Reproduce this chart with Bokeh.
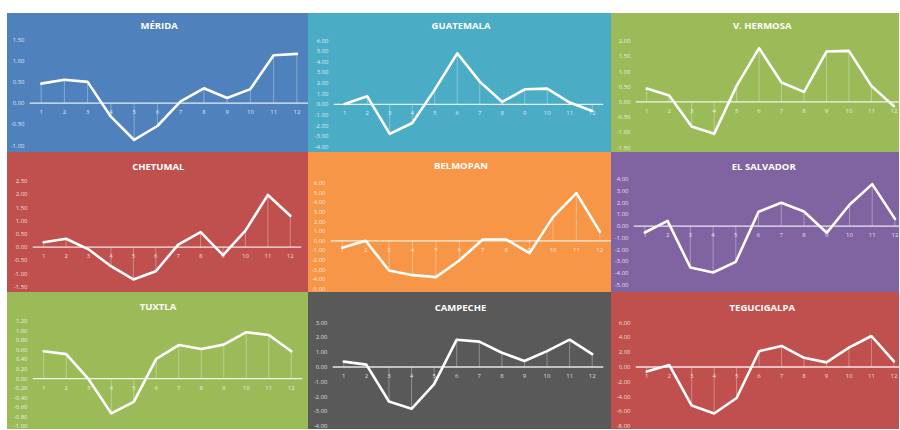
from bokeh.plotting import figure
from bokeh.layouts import column, row
from bokeh.models import Range1d, FixedTicker, PrintfTickFormatter, Span, Label, ColumnDataSource, Spacer
from bokeh.embed import file_html
from bokeh.resources import INLINE
from bokeh.core.properties import value

# ---------------- data ----------------
months = [1, 2, 3, 4, 5, 6, 7, 8, 9, 10, 11, 12]
month_labels = ["1", "2", "3", "4", "5", "6", "7", "8", "9", "10", "11", "12"]

merida = [0.46, 0.55, 0.50, -0.32, -0.87, -0.54, 0.04, 0.35, 0.12, 0.33, 1.13, 1.16]
guatemala = [0.03, 0.75, -2.79, -1.76, 1.38, 4.80, 2.13, 0.22, 1.41, 1.47, 0.16, -0.63]
v_hermosa = [0.44, 0.21, -0.81, -1.05, 0.53, 1.77, 0.64, 0.33, 1.66, 1.68, 0.53, -0.14]
chetumal = [0.19, 0.32, -0.08, -0.72, -1.22, -0.91, 0.10, 0.57, -0.30, 0.63, 1.98, 1.19]
belmopan = [-0.72, 0.00, -3.09, -3.58, -3.78, -2.05, 0.14, 0.14, -1.28, 2.47, 4.97, 0.95]
el_salvador = [-0.54, 0.45, -3.52, -3.95, -3.04, 1.22, 1.99, 1.25, -0.57, 1.82, 3.58, 0.62]
tuxtla = [0.57, 0.51, -0.02, -0.73, -0.49, 0.41, 0.70, 0.62, 0.71, 0.97, 0.91, 0.57]
campeche = [0.36, 0.16, -2.33, -2.82, -1.16, 1.84, 1.71, 0.96, 0.40, 1.07, 1.84, 0.87]
tegucigalpa = [-0.62, 0.27, -5.20, -6.27, -4.18, 2.13, 2.84, 1.24, 0.62, 2.62, 4.18, 0.76]

merida_ticks = [-1.0, -0.5, 0.0, 0.5, 1.0, 1.5]
guatemala_ticks = [-4, -3, -2, -1, 0, 1, 2, 3, 4, 5, 6]
v_hermosa_ticks = [-1.5, -1.0, -0.5, 0.0, 0.5, 1.0, 1.5, 2.0]
chetumal_ticks = [-1.5, -1.0, -0.5, 0.0, 0.5, 1.0, 1.5, 2.0, 2.5]
belmopan_ticks = [-5, -4, -3, -2, -1, 0, 1, 2, 3, 4, 5, 6]
el_salvador_ticks = [-5, -4, -3, -2, -1, 0, 1, 2, 3, 4]
tuxtla_ticks = [-1.0, -0.8, -0.6, -0.4, -0.2, 0.0, 0.2, 0.4, 0.6, 0.8, 1.0, 1.2]
campeche_ticks = [-4, -3, -2, -1, 0, 1, 2, 3]
tegucigalpa_ticks = [-8, -6, -4, -2, 0, 2, 4, 6]

titles = ["MÉRIDA", "GUATEMALA", "V. HERMOSA",
          "CHETUMAL", "BELMOPAN", "EL SALVADOR",
          "TUXTLA", "CAMPECHE", "TEGUCIGALPA"]
series = [merida, guatemala, v_hermosa, chetumal, belmopan, el_salvador,
          tuxtla, campeche, tegucigalpa]
ticks = [merida_ticks, guatemala_ticks, v_hermosa_ticks, chetumal_ticks,
         belmopan_ticks, el_salvador_ticks, tuxtla_ticks, campeche_ticks,
         tegucigalpa_ticks]
colors = ["#4F81BD", "#4BACC6", "#9BBB59",
          "#C0504D", "#F79646", "#8064A2",
          "#9BBB59", "#595959", "#C0504D"]

# ---------------- layout (pixels, relative to each panel) ----------------
# width, height, frame_left, border_right, top_tick_y, bottom_tick_y, x_end, title_x, title_y
geom = [
    (301, 139, 20, 0, 26.0, 132.0, 12.5, 150.5, 12.3),
    (303, 139, 25, 8, 27.0, 133.3, 12.5, 152.5, 12.3),
    (288, 139, 24, 0, 27.7, 134.0, 12.25, 150.7, 12.3),
    (301, 140, 25, 7, 28.7, 134.3, 12.5, 150.8, 13.7),
    (303, 140, 22, 0, 30.7, 136.3, 12.5, 152.5, 13.3),
    (288, 140, 21, 0, 26.7, 132.3, 12.2, 151.7, 13.7),
    (301, 137, 25, 6, 28.7, 133.8, 12.5, 150.5, 13.7),
    (303, 137, 24, 8, 30.0, 133.8, 12.5, 152.0, 14.7),
    (288, 137, 24, 0, 30.0, 133.8, 12.25, 150.8, 14.7),
]

FONT = "Open Sans"


def make_panel(title, vals, tks, color, g):
    W, H, fl, br, yt, yb, xend, tx, ty = g
    ymin, ymax = min(tks), max(tks)
    upp = (ymax - ymin) / (yb - yt)          # data units per pixel
    y_start = ymin - (H - yb) * upp
    y_end = ymax + yt * upp
    p = figure(width=W, height=H, output_backend="svg", toolbar_location=None,
               x_range=Range1d(0.5, xend), y_range=Range1d(y_start, y_end),
               x_axis_location=None, min_border_left=fl, min_border_right=br,
               min_border_top=0, min_border_bottom=0)
    p.title.visible = False
    p.background_fill_color = None
    p.border_fill_color = None
    p.styles = {"background-color": color}
    p.outline_line_color = None
    p.grid.visible = False

    ax = p.yaxis[0]
    ax.ticker = FixedTicker(ticks=tks)
    ax.formatter = PrintfTickFormatter(format="%.2f")
    ax.axis_line_color = None
    ax.major_tick_line_color = None
    ax.minor_tick_line_color = None
    ax.major_tick_out = 0
    ax.major_tick_in = 0
    ax.major_label_standoff = 5
    ax.major_label_text_font = FONT
    ax.major_label_text_font_size = "6px"
    ax.major_label_text_color = "white"
    ax.major_label_text_alpha = 0.8

    src = ColumnDataSource(dict(x=months, y=vals, z=[0] * len(months), lab=month_labels))

    p.add_layout(Span(location=0, dimension="width", line_color="white",
                      line_width=1.3, line_alpha=0.85))
    p.segment(x0="x", y0="z", x1="x", y1="y", source=src,
              line_color="white", line_width=1, line_alpha=0.32)
    p.text(x="x", y="z", text="lab", source=src, text_font=value(FONT),
           text_font_size="6px", text_color="white", text_alpha=0.8,
           text_align="center", text_baseline="middle", y_offset=9)
    p.line(x="x", y="y", source=src, line_color="white", line_width=2.6,
           line_join="round", line_cap="round")

    fw = W - fl - br
    tx_data = 0.5 + (tx - fl) * (xend - 0.5) / fw
    ty_data = y_end - ty * upp
    p.add_layout(Label(x=tx_data, y=ty_data, text=title, text_font=FONT,
                       text_font_size="9.5px", text_font_style="bold",
                       text_color="white", text_align="center",
                       text_baseline="middle"))
    return p


panels = [make_panel(t, v, tk, c, g) for t, v, tk, c, g in zip(titles, series, ticks, colors, geom)]

grid = column(Spacer(width=892, height=13),
              row(panels[0], panels[1], panels[2]),
              row(panels[3], panels[4], panels[5]),
              row(panels[6], panels[7], panels[8]))
layout = row(Spacer(width=7, height=429), grid)

open("out.html", "w").write(file_html(layout, INLINE))
